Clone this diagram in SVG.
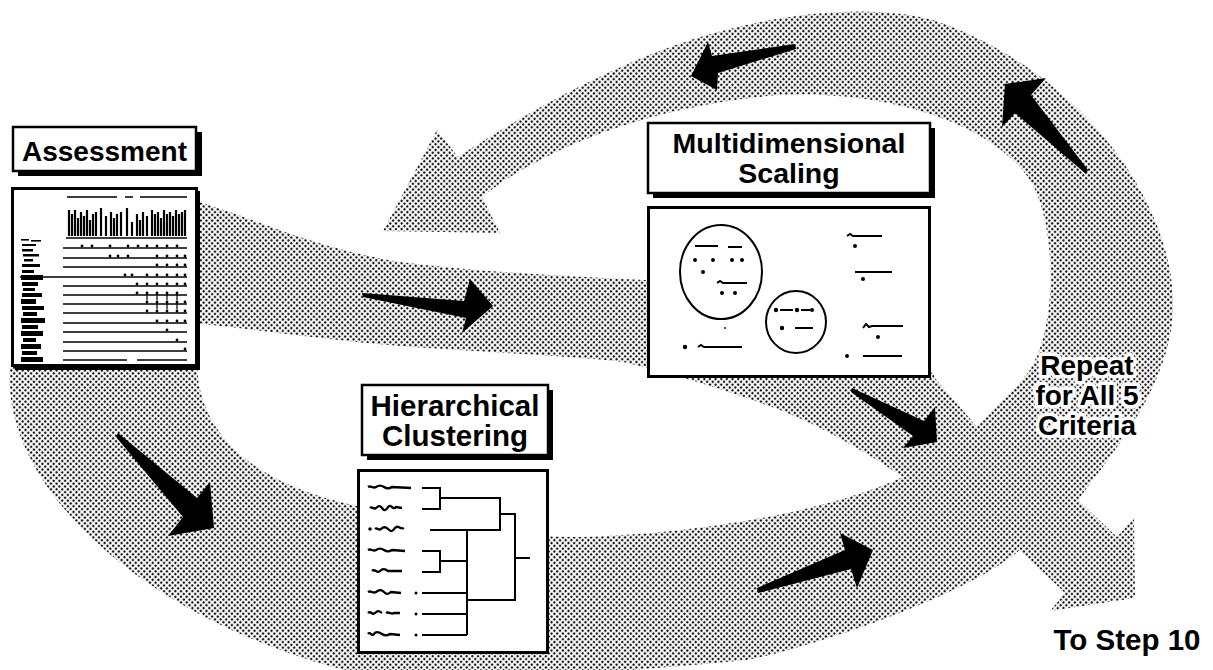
<svg xmlns="http://www.w3.org/2000/svg" width="1213" height="670" viewBox="0 0 1213 670">
<defs>
<pattern id="halftone" patternUnits="userSpaceOnUse" width="4" height="4" patternTransform="rotate(45)">
<circle cx="2" cy="2" r="1.27" fill="#151515"/>
</pattern>
<mask id="bandmask" maskUnits="userSpaceOnUse" x="0" y="0" width="1213" height="670">
  <rect width="1213" height="670" fill="#000"/>
  <path fill="#fff" d="M10,366 C0,480 130,610 333,667 C420,690 620,672 747,660 C800,650 960,600 1020,550 L1078,500 C1115,450 1175,380 1173,300 C1171,200 1080,70 933,20 C860,0 740,15 630,63 C560,93 500,130 458,157 L437,130 L383,231 L500,233 L482,197 C540,150 650,105 780,95 C880,90 990,120 1030,180 C1055,220 1060,320 1030,370 C1015,390 995,405 977,427 L903,477 C820,515 680,535 580,537 C480,537 390,515 333,500 C260,480 200,440 197,366 Z"/>
  <path fill="#fff" d="M185,198 C250,215 300,245 400,262 C480,272 560,276 645,280 L820,290 C880,300 920,340 935,378 L977,427 L1078,500 L1117,537 L1134,518 L1135,598 L1050,611 L1065,593 L1020,550 L903,477 C870,455 830,430 780,410 C740,395 690,378 623,362 C560,355 480,352 400,346 C330,340 260,330 185,322 Z"/>
</mask>
<style>
.band{fill:url(#halftone)}
.arrow{fill:#000}
.shadow{fill:#000}
.box{fill:#fff;stroke:#000;stroke-width:2.5}
.panel{fill:#fff;stroke:#000;stroke-width:3}
.lbl{font-family:"Liberation Sans",Arial,Helvetica,sans-serif;font-weight:bold;fill:#000;text-anchor:middle}
.halo{stroke:#fff;stroke-width:7;paint-order:stroke;stroke-linejoin:round}
.ln{fill:none;stroke:#000;stroke-width:1.4}
.th{fill:none;stroke:#000;stroke-width:2}
.sq{fill:none;stroke:#000;stroke-width:2.3}
.dot{fill:#000}
</style>
</defs>
<rect width="1213" height="670" fill="#fff"/>

<g id="connectors">
  <!-- halftone flow bands (loop via clustering + path via scaling to Step 10) -->
  <rect class="band" x="0" y="0" width="1213" height="670" mask="url(#bandmask)"/>
  <!-- black direction arrows -->
  <path class="arrow" d="M362,293 L464,301 L470,279 L493,306 L462,333 L466,318 L363,297 Z"/>
  <path class="arrow" d="M795,44 L712,56 L708,42 L691,76 L717,90 L718,73 L796,49 Z"/>
  <path class="arrow" d="M1086,174 L1015,113 L1002,127 L1005,84 L1046,78 L1031,95 L1088,170 Z"/>
  <path class="arrow" d="M118,433 L197,498 L210,482 L214,528 L168,536 L183,517 L116,437 Z"/>
  <path class="arrow" d="M852,388 L924,421 L935,407 L937,442 L903,448 L913,436 L851,392 Z"/>
  <path class="arrow" d="M757,588 L845,550 L840,533 L873,550 L857,588 L851,569 L758,593 Z"/>
</g>

<g id="assessment">
  <rect class="shadow" x="18" y="132" width="184" height="44"/>
  <rect class="box" x="13" y="127" width="183" height="44"/>
  <text class="lbl" x="104.5" y="161" font-size="28">Assessment</text>
  <rect class="shadow" x="15" y="191" width="185" height="179"/>
  <rect class="panel" x="12.5" y="188.5" width="184" height="177"/>
  <path class="ln" d="M67,197 H117 M125,197 H133 M140,197 H187"/>
  <path fill="none" stroke="#000" stroke-width="2.2" d="M69,236 v-26 M72,236 v-22 M75,236 v-26 M78,236 v-18 M81,236 v-24 M84,236 v-20 M87,236 v-26 M90,236 v-16 M93,236 v-22 M96,236 v-24 M101,236 v-28 M106,236 v-20 M111,236 v-24 M114,236 v-18 M117,236 v-22 M121,236 v-24 M127,236 v-28 M132,236 v-14 M137,236 v-22 M140,236 v-16 M143,236 v-24 M147,236 v-20 M152,236 v-26 M155,236 v-22 M158,236 v-24 M161,236 v-18 M164,236 v-26 M167,236 v-22 M170,236 v-24 M173,236 v-20 M176,236 v-26 M179,236 v-22 M182,236 v-24 M185,236 v-26"/>
  <path class="ln" d="M66,238 H187"/>
  <path class="ln" d="M63,248 H187 M63,258 H187 M63,267 H187 M20,277 H187 M63,286 H187 M63,295 H187 M63,304 H187 M63,313 H187 M63,323 H187 M63,332 H187 M63,342 H187 M63,351 H187 M63,360 H127 M137,360 H187"/>
  <g class="dot">
    <circle cx="82" cy="246" r="1.4"/><circle cx="92" cy="246" r="1.4"/><circle cx="110" cy="246" r="1.4"/><circle cx="128" cy="246" r="1.4"/><circle cx="138" cy="246" r="1.4"/><circle cx="147" cy="246" r="1.4"/><circle cx="157" cy="246" r="1.4"/><circle cx="167" cy="246" r="1.4"/><circle cx="177" cy="246" r="1.4"/>
    <circle cx="110" cy="256" r="1.4"/><circle cx="118" cy="256" r="1.4"/><circle cx="128" cy="256" r="1.4"/><circle cx="157" cy="256" r="1.4"/><circle cx="167" cy="256" r="1.4"/><circle cx="177" cy="256" r="1.4"/><circle cx="185" cy="256" r="1.4"/>
    <circle cx="157" cy="265" r="1.4"/><circle cx="167" cy="265" r="1.4"/><circle cx="177" cy="265" r="1.4"/><circle cx="185" cy="265" r="1.4"/>
    <circle cx="125" cy="275" r="1.4"/><circle cx="132" cy="275" r="1.4"/><circle cx="147" cy="275" r="1.4"/><circle cx="157" cy="275" r="1.4"/><circle cx="167" cy="275" r="1.4"/><circle cx="177" cy="275" r="1.4"/><circle cx="185" cy="275" r="1.4"/>
    <circle cx="137" cy="284" r="1.4"/><circle cx="147" cy="284" r="1.4"/><circle cx="157" cy="284" r="1.4"/><circle cx="167" cy="284" r="1.4"/><circle cx="177" cy="284" r="1.4"/><circle cx="185" cy="284" r="1.4"/>
    <circle cx="137" cy="293" r="1.4"/><circle cx="147" cy="293" r="1.4"/><circle cx="157" cy="293" r="1.4"/><circle cx="167" cy="293" r="1.4"/><circle cx="177" cy="293" r="1.4"/>
    <circle cx="147" cy="302" r="1.4"/><circle cx="157" cy="302" r="1.4"/><circle cx="167" cy="302" r="1.4"/><circle cx="177" cy="302" r="1.4"/><circle cx="185" cy="302" r="1.4"/>
    <circle cx="147" cy="311" r="1.4"/><circle cx="157" cy="311" r="1.4"/><circle cx="167" cy="311" r="1.4"/><circle cx="177" cy="311" r="1.4"/><circle cx="185" cy="311" r="1.4"/>
    <circle cx="157" cy="321" r="1.4"/><circle cx="167" cy="321" r="1.4"/><circle cx="177" cy="321" r="1.4"/><circle cx="185" cy="321" r="1.4"/>
    <circle cx="167" cy="330" r="1.4"/><circle cx="177" cy="340" r="1.4"/><circle cx="185" cy="349" r="1.4"/>
  </g>
  <path fill="none" stroke="#000" stroke-width="1.2" d="M147,300 v-6 M157,300 v-6 M167,300 v-6 M177,300 v-6 M157,309 v-6 M167,309 v-6 M177,309 v-6"/>
  <g class="dot">
    <rect x="21" y="239" width="8" height="1.6"/><rect x="31" y="240" width="10" height="1.6"/>
    <rect x="22" y="244" width="14" height="2"/><rect x="22" y="249" width="11" height="2.5"/>
    <rect x="23" y="254" width="16" height="2.5"/><rect x="24" y="259" width="9" height="2.5"/>
    <rect x="22" y="264" width="18" height="3"/><rect x="22" y="270" width="12" height="3"/>
    <rect x="21" y="275" width="22" height="5"/><rect x="22" y="282" width="16" height="4"/>
    <rect x="23" y="288" width="12" height="3"/><rect x="22" y="293" width="20" height="4"/>
    <rect x="21" y="299" width="15" height="5"/><rect x="22" y="306" width="22" height="4"/>
    <rect x="23" y="312" width="14" height="4"/><rect x="21" y="318" width="24" height="5"/>
    <rect x="22" y="325" width="16" height="4"/><rect x="21" y="331" width="22" height="5"/>
    <rect x="23" y="338" width="13" height="4"/><rect x="21" y="344" width="20" height="5"/>
    <rect x="22" y="351" width="15" height="4"/><rect x="21" y="357" width="22" height="5"/>
  </g>
</g>

<g id="mds">
  <rect class="shadow" x="653" y="128" width="282" height="70"/>
  <rect class="box" x="648" y="123" width="282" height="70"/>
  <text class="lbl" x="789" y="153" font-size="28.5">Multidimensional</text>
  <text class="lbl" x="789" y="183" font-size="28.5">Scaling</text>
  <rect class="panel" x="648.5" y="207.5" width="281" height="169"/>
  <ellipse cx="721" cy="272" rx="41" ry="47" class="th"/>
  <ellipse cx="796" cy="322" rx="30" ry="31" class="th"/>
  <path class="th" d="M695,246 H718 M728,247 H742 M717,283 l3,-2 l3,2 H747 M780,310 H793 M801,310 H810 M795,328 H813 M847,236 l3,-2 l3,2 H882 M855,272 H892 M863,328 l3,-4 l3,3 l3,-1 H903 M863,356 H902 M698,347 l3,-2 l3,2 H742"/>
  <g class="dot">
    <circle cx="695" cy="260" r="2"/><circle cx="713" cy="260" r="2"/><circle cx="732" cy="260" r="2"/><circle cx="742" cy="260" r="2"/><circle cx="703" cy="272" r="2"/>
    <circle cx="722" cy="293" r="2"/><circle cx="735" cy="293" r="2"/>
    <circle cx="776" cy="310" r="2.2"/><circle cx="797" cy="310" r="2.2"/><circle cx="812" cy="310" r="2"/><circle cx="782" cy="328" r="2.2"/>
    <circle cx="855" cy="246" r="2"/><circle cx="863" cy="279" r="2"/><circle cx="878" cy="337" r="2"/><circle cx="847" cy="356" r="2"/>
    <circle cx="685" cy="347" r="2.2"/><circle cx="725" cy="328" r="0.9"/>
  </g>
</g>

<g id="hc">
  <rect class="shadow" x="367" y="390" width="186" height="70"/>
  <rect class="box" x="362" y="385" width="186" height="70"/>
  <text class="lbl" x="455" y="416" font-size="29.5">Hierarchical</text>
  <text class="lbl" x="455" y="446" font-size="29.5">Clustering</text>
  <rect class="panel" x="358.5" y="470.5" width="189" height="182"/>
  <path class="th" d="M422,488 H440 V509 H422 M440,498 H500 V530 H430 M500,514 H515 V600 H467 M515,558 H530 M422,551 H440 V572 H422 M440,561 H467 M467,530 V635 M422,593 H467 M422,614 H467 M422,635 H467"/>
  <path class="sq" d="M368,487 c3,-2 5,2 8,0 s5,-2 8,0 s5,2 8,0 l19,1 M370,508 c2,-2 4,2 6,0 s4,-3 6,0 s4,3 6,-1 c3,-4 5,4 8,0 l6,1 M375,529 c2,-2 4,2 6,0 s4,-3 7,0 s4,3 7,-1 s5,2 9,0 M368,550 c3,-2 5,2 8,0 s5,-2 8,0 s5,2 8,0 l13,1 M372,571 c3,-3 5,3 8,0 s5,-2 8,0 l14,0 M368,592 c3,-2 5,2 8,0 s5,-3 8,0 s4,2 7,0 l10,1 M368,613 c3,-3 4,3 7,0 s4,-2 7,0 m4,0 c3,-2 5,2 8,0 l6,0 M368,634 c2,-3 4,3 6,0 s5,-2 8,0 s5,2 8,0 l10,1"/>
  <g class="dot">
    <circle cx="370" cy="529" r="1.8"/><circle cx="416" cy="593" r="1.5"/><circle cx="416" cy="614" r="1.5"/><circle cx="416" cy="635" r="1.5"/>
  </g>
</g>

<g id="repeat-label">
  <text class="lbl halo" x="1087" y="375" font-size="28">Repeat</text>
  <text class="lbl halo" x="1087" y="405" font-size="28">for All 5</text>
  <text class="lbl halo" x="1087" y="435" font-size="28">Criteria</text>
</g>

<g id="to-step-10">
  <text class="lbl" x="1127" y="650" font-size="29.5">To Step 10</text>
</g>
</svg>
